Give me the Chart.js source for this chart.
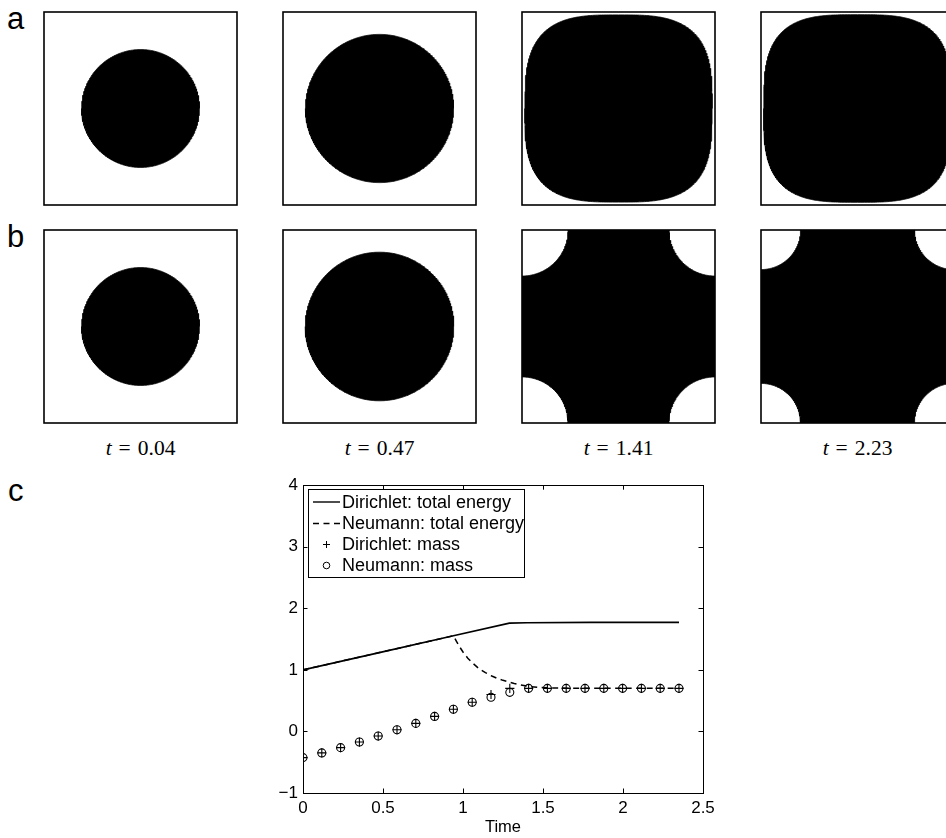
<!DOCTYPE html>
<html><head><meta charset="utf-8">
<script src="https://cdn.jsdelivr.net/npm/chart.js@4.4.1/dist/chart.umd.min.js"></script>
<style>
html,body{margin:0;padding:0;background:#fff;}
body{width:946px;height:838px;overflow:hidden;position:relative;}
canvas{position:absolute;}
.lbl{position:absolute;font-family:"Liberation Sans",Arial,Helvetica,sans-serif;font-size:31px;line-height:31px;color:#000;}
.tl{position:absolute;font-family:"Liberation Serif","Times New Roman",serif;font-size:21.5px;line-height:21px;color:#000;width:193px;text-align:center;white-space:nowrap;}
.tl .eq{margin:0 7px;}
</style></head><body>
<div class="lbl" style="left:7px;top:3px">a</div>
<div class="lbl" style="left:7px;top:221px">b</div>
<div class="lbl" style="left:8px;top:475px">c</div>
<script>
// ---------------- data ----------------
const snapshotTimes = ['0.04', '0.47', '1.41', '2.23'];
// row a (Dirichlet): shape kind and size (in box half-widths)
const rowAKinds = ['disk', 'disk', 'squircle', 'squircle'];
const rowASizes = [0.611, 0.768, 0.97, 0.972];
const rowAExponents = [2, 2, 3.2, 3.3];
// row b (Neumann): shape kind and size
const rowBKinds = ['disk', 'disk', 'corners', 'corners'];
const rowBSizes = [0.611, 0.77, 0.477, 0.41];

const massTimes = [0, 0.1175, 0.235, 0.3525, 0.47, 0.5875, 0.705, 0.8225, 0.94, 1.0575, 1.175, 1.2925, 1.41, 1.5275, 1.645, 1.7625, 1.88, 1.9975, 2.115, 2.2325, 2.35];
const dirichletMass = [-0.425, -0.349, -0.263, -0.172, -0.075, 0.027, 0.131, 0.244, 0.36, 0.474, 0.60, 0.70, 0.70, 0.70, 0.70, 0.70, 0.70, 0.70, 0.70, 0.70, 0.70];
const neumannMass   = [-0.425, -0.349, -0.263, -0.172, -0.075, 0.027, 0.131, 0.244, 0.36, 0.474, 0.555, 0.635, 0.70, 0.70, 0.70, 0.70, 0.70, 0.70, 0.70, 0.70, 0.70];

const dirichletEnergyTimes = [0, 0.47, 0.94, 1.29, 1.4, 1.8, 2.35];
const dirichletEnergy      = [1.0, 1.277, 1.554, 1.76, 1.766, 1.771, 1.773];
const neumannEnergyTimes = [0, 0.47, 0.94, 0.96, 0.98, 1.0, 1.03, 1.065, 1.10, 1.14, 1.18, 1.21, 1.25, 1.285, 1.32, 1.36, 1.42, 1.48, 1.55, 1.65, 1.8, 2.35];
const neumannEnergy      = [1.0, 1.277, 1.554, 1.46, 1.37, 1.29, 1.19, 1.10, 1.02, 0.955, 0.90, 0.866, 0.83, 0.805, 0.78, 0.757, 0.728, 0.713, 0.706, 0.703, 0.701, 0.70];

const xTicks = [0, 0.5, 1, 1.5, 2, 2.5];
const xTickLabels = ['0', '0.5', '1', '1.5', '2', '2.5'];
const yTicks = [-1, 0, 1, 2, 3, 4];
const yTickLabels = ['\u22121', '0', '1', '2', '3', '4'];
const seriesLabels = ['Dirichlet: total energy', 'Neumann: total energy', 'Dirichlet: mass', 'Neumann: mass'];

// ---------------- layout ----------------
Chart.defaults.font.family = '"Liberation Sans", Arial, Helvetica, sans-serif';
Chart.defaults.color = '#000';

const colLeft = [44, 283, 522, 761];
const rowTop = [12, 230];
const BOX = 193;

function outline(kind, s, n) {
  const N = 240, up = [], lo = [];
  if (kind === 'disk' || kind === 'squircle') {
    const p = 2 / n;
    for (let k = 0; k <= N; k++) {
      const th = Math.PI - Math.PI * k / N;
      const c = Math.cos(th), sn = Math.sin(th);
      const x = s * Math.sign(c) * Math.pow(Math.abs(c), p);
      const y = s * Math.pow(Math.abs(sn), p);
      up.push({x, y}); lo.push({x, y: -y});
    }
  } else {
    const M = 90;
    for (let k = 0; k <= M; k++) {
      const ph = Math.PI / 2 * k / M;
      const x = -1 + s * Math.sin(ph), y = 1 - s * Math.cos(ph);
      up.push({x, y}); lo.push({x, y: -y});
    }
    for (let k = M; k >= 0; k--) {
      const ph = Math.PI / 2 * k / M;
      const x = 1 - s * Math.sin(ph), y = 1 - s * Math.cos(ph);
      up.push({x, y}); lo.push({x, y: -y});
    }
  }
  return {up, lo};
}

const framePlugin = {
  id: 'frame',
  afterDraw(chart) {
    const a = chart.chartArea, ctx = chart.ctx;
    ctx.save();
    ctx.strokeStyle = '#000';
    ctx.lineWidth = 1.6;
    ctx.strokeRect(a.left, a.top, a.right - a.left, a.bottom - a.top);
    ctx.restore();
  }
};

function makePanel(left, top, kind, size, expo) {
  const cv = document.createElement('canvas');
  cv.width = BOX + 4; cv.height = BOX + 3;
  cv.style.left = (left - 2) + 'px'; cv.style.top = (top - 2) + 'px';
  cv.style.width = cv.width + 'px'; cv.style.height = cv.height + 'px';
  document.body.appendChild(cv);
  const o = outline(kind, size, expo);
  const base = {borderColor: '#000', backgroundColor: '#000', borderWidth: 0.8, pointRadius: 0, tension: 0};
  new Chart(cv, {
    type: 'line',
    data: {datasets: [
      Object.assign({data: o.up, fill: '+1'}, base),
      Object.assign({data: o.lo, fill: false}, base)
    ]},
    options: {
      responsive: false, animation: false, devicePixelRatio: 1, events: [],
      layout: {padding: {left: 2, top: 2, right: 2, bottom: 1}},
      plugins: {legend: {display: false}, tooltip: {enabled: false}},
      scales: {
        x: {type: 'linear', min: -1, max: 1, display: false},
        y: {type: 'linear', min: -1, max: 1, display: false}
      }
    },
    plugins: [framePlugin]
  });
}

for (let i = 0; i < 4; i++) {
  makePanel(colLeft[i], rowTop[0], rowAKinds[i], rowASizes[i], rowAExponents[i]);
  makePanel(colLeft[i], rowTop[1], rowBKinds[i], rowBSizes[i], 2);
  const d = document.createElement('div');
  d.className = 'tl';
  d.style.left = colLeft[i] + 'px';
  d.style.top = '438px';
  d.innerHTML = '<i>t</i><span class="eq">=</span>' + snapshotTimes[i];
  document.body.appendChild(d);
}

// ---------------- panel c ----------------
const zip = (xs, ys) => xs.map((x, i) => ({x, y: ys[i]}));

const axesPlugin = {
  id: 'axesBox',
  afterDatasetsDraw(chart) {
    const a = chart.chartArea, ctx = chart.ctx;
    const xs = chart.scales.x, ys = chart.scales.y;
    ctx.save();
    ctx.strokeStyle = '#000';
    ctx.lineWidth = 1;
    ctx.beginPath();
    const TL = 4.5;
    xTicks.forEach(v => {
      const p = Math.round(xs.getPixelForValue(v)) + 0.5;
      ctx.moveTo(p, a.bottom); ctx.lineTo(p, a.bottom - TL);
      ctx.moveTo(p, a.top); ctx.lineTo(p, a.top + TL);
    });
    yTicks.forEach(v => {
      const p = Math.round(ys.getPixelForValue(v)) + 0.5;
      ctx.moveTo(a.left, p); ctx.lineTo(a.left + TL, p);
      ctx.moveTo(a.right, p); ctx.lineTo(a.right - TL, p);
    });
    ctx.stroke();
    ctx.strokeRect(Math.round(a.left) + 0.5, Math.round(a.top) + 0.5, Math.round(a.right - a.left), Math.round(a.bottom - a.top));

    // legend
    const L = 308, T = 19, R = 524, B = 107;
    ctx.fillStyle = '#fff';
    ctx.fillRect(L, T, R - L, B - T);
    ctx.strokeRect(L + 0.5, T + 0.5, R - L, B - T);
    const rows = [32, 53.5, 74.5, 95.5];
    const ds = chart.data.datasets;
    ctx.font = '18px "Liberation Sans", Arial, sans-serif';
    ctx.textBaseline = 'middle';
    ctx.textAlign = 'left';
    rows.forEach((ry, i) => {
      const d = ds[i];
      ctx.strokeStyle = '#000';
      ctx.lineWidth = 1.4;
      if (i < 2) {
        ctx.setLineDash(d.borderDash || []);
        ctx.beginPath(); ctx.moveTo(313, ry); ctx.lineTo(340, ry); ctx.stroke();
        ctx.setLineDash([]);
      } else if (i === 2) {
        ctx.lineWidth = 1;
        ctx.beginPath();
        ctx.moveTo(326.5 - 3.5, ry); ctx.lineTo(326.5 + 3.5, ry);
        ctx.moveTo(326.5, ry - 3.5); ctx.lineTo(326.5, ry + 3.5);
        ctx.stroke();
      } else {
        ctx.lineWidth = 1;
        ctx.beginPath(); ctx.arc(326.5, ry, 3.3, 0, Math.PI * 2); ctx.stroke();
      }
      ctx.fillStyle = '#000';
      ctx.fillText(d.label, 342, ry + 1);
    });
    ctx.restore();
  }
};

const cvC = document.createElement('canvas');
cvC.width = 946; cvC.height = 368;
cvC.style.left = '0px'; cvC.style.top = '470px';
cvC.style.width = '946px'; cvC.style.height = '368px';
document.body.appendChild(cvC);

new Chart(cvC, {
  type: 'line',
  data: {datasets: [
    {label: seriesLabels[0], data: zip(dirichletEnergyTimes, dirichletEnergy), borderColor: '#000', borderWidth: 1.7, pointRadius: 0, fill: false, tension: 0},
    {label: seriesLabels[1], data: zip(neumannEnergyTimes, neumannEnergy), borderColor: '#000', borderWidth: 1.5, borderDash: [6, 4.5], pointRadius: 0, fill: false, tension: 0},
    {label: seriesLabels[2], data: zip(massTimes, dirichletMass), showLine: false, pointStyle: 'cross', pointRadius: 4.6, pointBorderWidth: 1.1, borderColor: '#000', backgroundColor: '#000'},
    {label: seriesLabels[3], data: zip(massTimes, neumannMass), showLine: false, pointStyle: 'circle', pointRadius: 4, pointBorderWidth: 1.1, borderColor: '#000', pointBackgroundColor: 'rgba(0,0,0,0)', backgroundColor: 'rgba(0,0,0,0)'}
  ]},
  options: {
    responsive: false, animation: false, devicePixelRatio: 1, events: [],
    layout: {padding: {left: 253, right: 243, top: 14, bottom: 1}},
    plugins: {legend: {display: false}, tooltip: {enabled: false}},
    scales: {
      x: {
        type: 'linear', min: 0, max: 2.5,
        grid: {display: false, drawTicks: false},
        border: {display: false},
        afterBuildTicks: s => { s.ticks = xTicks.map(v => ({value: v})); },
        ticks: {font: {size: 17}, padding: 5, color: '#000', maxRotation: 0,
          callback: (v) => xTickLabels[xTicks.indexOf(v)] ?? ''},
        title: {display: true, text: 'Time', font: {size: 16.5}, color: '#000', padding: {top: 0, bottom: 0}},
        afterFit: s => { s.height = 44; }
      },
      y: {
        type: 'linear', min: -1, max: 4,
        grid: {display: false, drawTicks: false},
        border: {display: false},
        afterBuildTicks: s => { s.ticks = yTicks.map(v => ({value: v})); },
        ticks: {font: {size: 17}, padding: 5, color: '#000',
          callback: (v) => yTickLabels[yTicks.indexOf(v)] ?? ''},
        afterFit: s => { s.width = 50; }
      }
    }
  },
  plugins: [axesPlugin]
});
</script>
</body></html>
